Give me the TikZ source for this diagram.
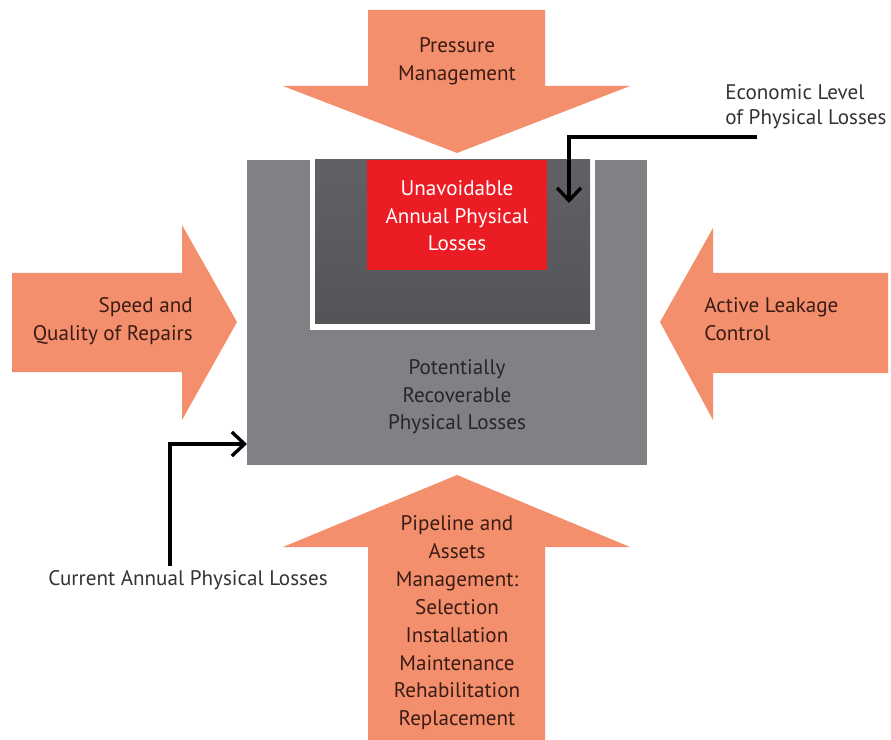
\documentclass[tikz,border=0pt]{standalone}
\usepackage{fontspec}
\setmainfont{PT Sans}
\usepackage{xcolor}
\usepackage{tikz}
\usetikzlibrary{arrows.meta, positioning, calc, backgrounds}
\definecolor{salmon}{HTML}{F48F6E}
\definecolor{boxgrey}{HTML}{808184}
\definecolor{darkgrey}{HTML}{58595C}
\definecolor{lossred}{HTML}{EC1C24}
\definecolor{arrowtext}{HTML}{3A1C14}
\definecolor{labeltext}{HTML}{333333}
\tikzset{
  bigarrow/.style={fill=salmon, draw=none}, % Define the big arrow style
  arrowlabel/.style={text=arrowtext, font=\fontsize{15}{19.8}\selectfont, inner sep=0pt},
  boxlabel/.style={align=center, font=\fontsize{15}{19.5}\selectfont, inner sep=0pt},
  sidelabel/.style={text=labeltext, font=\fontsize{15}{17.7}\selectfont, inner sep=0pt},
  pointer/.style={draw=black, line width=2.4pt, -{Straight Barb[length=9pt,width=17pt,line width=2.4pt]}}
}

\begin{document}
\begin{tikzpicture}[x=0.025cm, y=-0.025cm]
    \useasboundingbox (0,0) rectangle (891,740);

    % Boxes
    \fill[boxgrey] (247,160) rectangle (647,465);
    \node[inner sep=0pt, minimum width=10cm, minimum height=7.625cm] (outerBox) at (447,312.5) {};
    \fill[white] (310,160) rectangle (595,330);
    \shade[top color=darkgrey!95!white, bottom color=darkgrey!95!black] (315,160) rectangle (590,324);
    \node[fill=lossred, inner sep=0pt, minimum width=4.5cm, minimum height=2.75cm] (redBox) at (457,215) {};

    \node[boxlabel, text=white] (unavoidLabel) at (457,216) {Unavoidable\\Annual Physical\\Losses};
    \node[boxlabel, text=black!85] (recoverLabel) at (457,397) {Potentially\\Recoverable\\Physical Losses};

    % Big arrows
    \fill[bigarrow] (368,10) -- (545,10) -- (545,86) -- (630,86) -- (457,153) -- (283,86) -- (368,86) -- cycle;
    \fill[bigarrow] (12,273) -- (182,273) -- (182,225) -- (237,322) -- (182,420) -- (182,372) -- (12,372) -- cycle;
    \fill[bigarrow] (888,273) -- (713,273) -- (713,228) -- (660,322) -- (713,420) -- (713,373) -- (888,373) -- cycle;
    \fill[bigarrow] (368,740) -- (368,547) -- (283,547) -- (457,475) -- (630,547) -- (545,547) -- (545,740) -- cycle;

    \node[arrowlabel, align=center] (pressureLabel) at (457,61) {Pressure\\Management};
    \node[arrowlabel, align=right, anchor=east] (repairLabel) at (193,321) {Speed and\\Quality of Repairs};
    \node[arrowlabel, align=left, anchor=west] (leakageLabel) at (704,319) {Active Leakage\\Control};
    \node[arrowlabel, align=center] (pipelineLabel) at (457,623) {Pipeline and\\Assets\\Management:\\Selection\\Installation\\Maintenance\\Rehabilitation\\Replacement};

    % Pointers
    \node[sidelabel, align=left, anchor=west] (economicLabel) at (725,107) {Economic Level\\of Physical Losses};
    \node[sidelabel] (currentLabel) at (188,580) {Current Annual Physical Losses};
    \coordinate (economicEnd) at (757,137);
    \coordinate (economicTip) at (569,203);
    \coordinate (currentStart) at (170,566);
    \coordinate (currentTip) at (247,444);

    \draw[pointer] (economicEnd) -| (economicTip);
    \draw[pointer] (currentStart) |- (currentTip);

\end{tikzpicture}
\end{document}
